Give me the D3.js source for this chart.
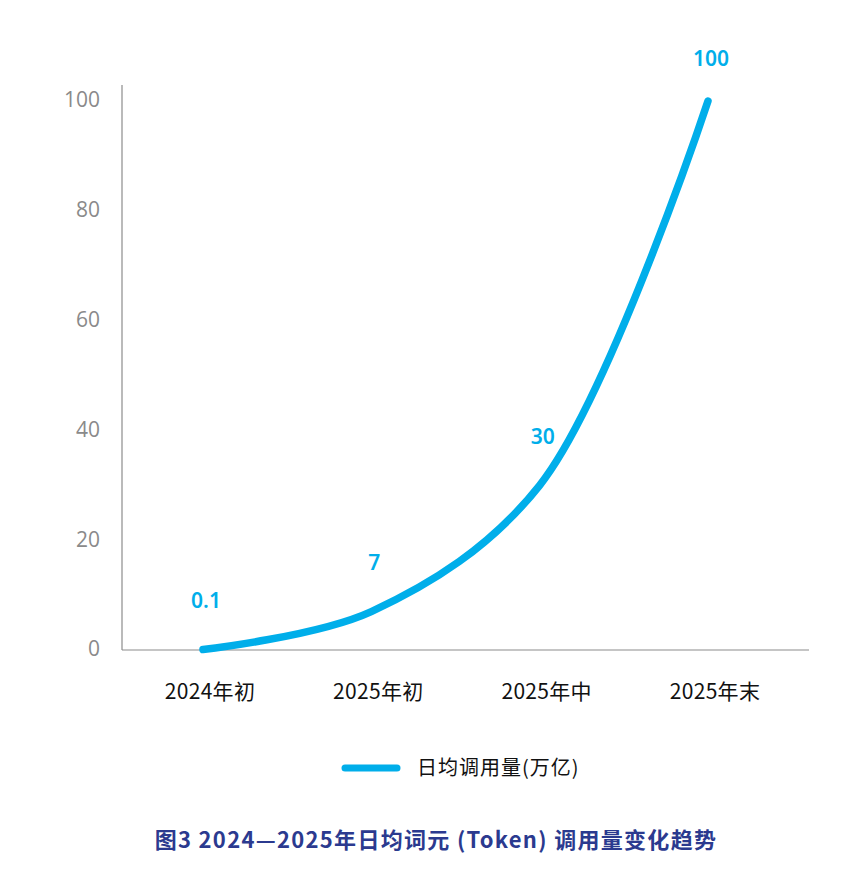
<!DOCTYPE html>
<html><head><meta charset="utf-8">
<script src="https://cdn.jsdelivr.net/npm/d3@7/dist/d3.min.js"></script>
<style>body{margin:0;background:#fff}</style>
</head><body>
<svg id="c" width="867" height="870"></svg>
<script>
const categories = ["2024年初","2025年初","2025年中","2025年末"];
const values = [0.1, 7, 30, 100];
const valueLabels = ["0.1","7","30","100"];
const yTicks = [0,20,40,60,80,100];
const seriesName = "日均调用量(万亿)";
const title = "图3 2024—2025年日均词元 (Token) 调用量变化趋势";

const svg = d3.select("#c");
const blue = "#00aeea";
const x = d3.scalePoint().domain(categories).range([203, 708]);
const y = d3.scaleLinear().domain([0,100]).range([650, 101]);

// axes lines
svg.append("line").attr("x1",122).attr("x2",122).attr("y1",85).attr("y2",650).attr("stroke","#8c8c8c").attr("stroke-width",1.2);
svg.append("line").attr("x1",122).attr("x2",809).attr("y1",650).attr("y2",650).attr("stroke","#8c8c8c").attr("stroke-width",1.2);

// y tick labels
svg.append("g").selectAll("text").data(yTicks).join("text")
  .attr("x",100).attr("y",d=>y(d)-1).attr("dy","0.35em")
  .attr("text-anchor","end").attr("font-family","Open Sans, Noto Sans, sans-serif")
  .attr("font-size",21).attr("fill","#8a8a8a").text(d=>d);

// x labels
svg.append("g").selectAll("text").data(categories).join("text")
  .attr("x",d=>x(d)+7).attr("y",699)
  .attr("text-anchor","middle").attr("font-family","Noto Sans CJK SC, sans-serif")
  .attr("font-size",21).attr("letter-spacing",0.3).attr("fill","#111").text(d=>d);

// line
const pts = categories.map((c,i)=>[x(c), y(values[i])]);
svg.append("path").attr("d", d3.line().curve(d3.curveCatmullRom.alpha(0.5))(pts))
  .attr("fill","none").attr("stroke",blue).attr("stroke-width",7.5)
  .attr("stroke-linecap","round").attr("stroke-linejoin","round");

// value labels
svg.append("g").selectAll("text").data(categories).join("text")
  .attr("x",(d,i)=>x(d)+3).attr("y",(d,i)=>Math.max(y(values[i])-49, 59)).attr("dy","0.35em")
  .attr("text-anchor","middle").attr("font-family","Noto Sans, Open Sans, sans-serif")
  .attr("font-weight",600).attr("font-size",21).attr("fill",blue)
  .text((d,i)=>valueLabels[i]);

// legend
svg.append("line").attr("x1",345).attr("x2",397).attr("y1",768).attr("y2",768)
  .attr("stroke",blue).attr("stroke-width",7).attr("stroke-linecap","round");
svg.append("text").attr("x",417).attr("y",768).attr("dy","0.35em")
  .attr("font-family","Noto Sans CJK SC, sans-serif").attr("font-size",20).attr("letter-spacing",1)
  .attr("fill","#111").text(seriesName);

// title
svg.append("text").attr("x",436).attr("y",840).attr("dy","0.35em").attr("text-anchor","middle")
  .attr("font-family","Noto Sans CJK SC, sans-serif").attr("font-weight","bold").attr("font-size",22)
  .attr("letter-spacing",1.3).attr("fill","#2b3a8f").text(title);
</script>
</body></html>
